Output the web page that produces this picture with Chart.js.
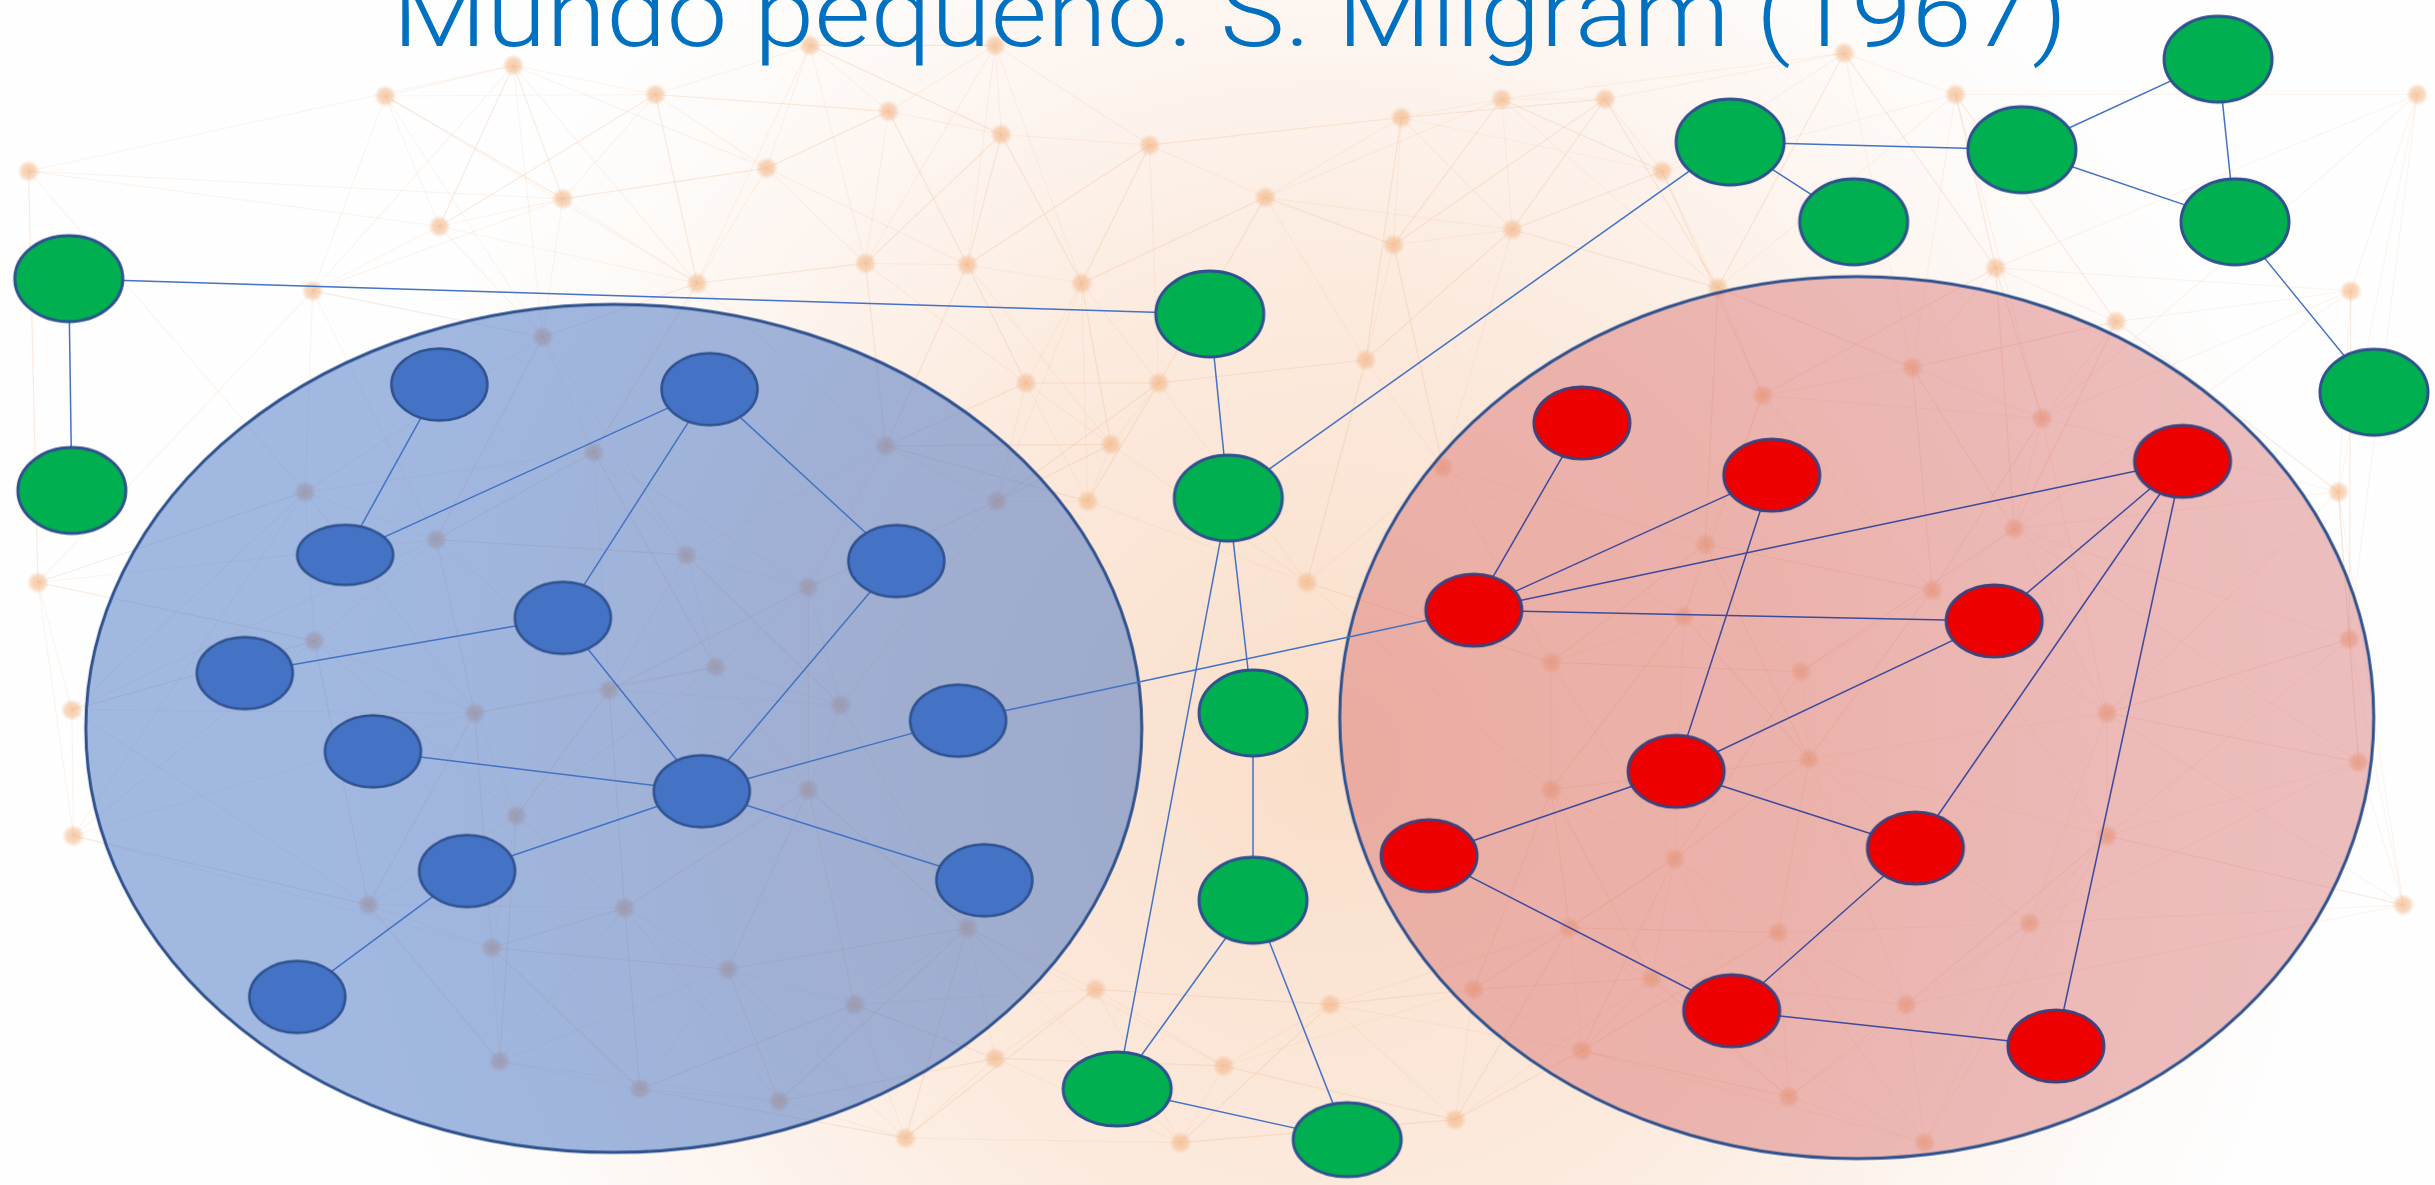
<!DOCTYPE html>
<html><head><meta charset="utf-8">
<script src="https://cdn.jsdelivr.net/npm/chart.js@4.4.1/dist/chart.umd.min.js"></script>
<style>
html,body{margin:0;padding:0;background:#fefefe;overflow:hidden}
#wrap{position:relative;width:2435px;height:1185px}
#c{position:absolute;left:0;top:0}
#ttl{position:absolute;left:0;top:0;pointer-events:none}
</style></head><body>
<div id="wrap"><canvas id="c" width="2435" height="1185"></canvas>
<svg id="ttl" width="2435" height="1185" xmlns="http://www.w3.org/2000/svg"><text id="ttlText" x="1230" y="46" text-anchor="middle" font-family="Roboto, 'Open Sans', sans-serif" font-weight="300" font-size="96" fill="#0070C0" textLength="1675" lengthAdjust="spacingAndGlyphs"></text></svg>
</div>
<script>
// ---------- DATA (layout coordinates) ----------
const titleText = 'Mundo pequeño. S. Milgram (1967)';

const greenNames = ['G1','G2','G3','G4','G5','G6','G7','G8','G9','G10','G11','G12','G13','G14'];
const greenX = [40, 42, 779, 1116, 1196, 1305, 1432, 1443, 1533, 791, 807, 807, 719, 868];
const greenY = [177, 315, 200, 88, 140, 93, 34, 140, 251, 320, 460, 582, 705, 738];

const blueNames = ['B1','B2','B3','B4','B5','B6','B7','B8','B9','B10','B11','B12'];
const blueX = [280, 455, 219, 576, 360, 154, 237, 616, 450, 298, 633, 188];
const blueY = [246, 249, 357, 361, 398, 434, 485, 465, 511, 563, 569, 645];

const redNames = ['R1','R2','R3','R4','R5','R6','R7','R8','R9','R10'];
const redX = [1020, 1143, 1409, 950, 1287, 1081, 921, 1236, 1117, 1327];
const redY = [271, 305, 296, 393, 400, 498, 553, 548, 654, 677];

const groupNames = ['blueGroup','redGroup'];
const groupX = [393, 1198];
const groupY = [470, 463];

const greenEdges = [['G1','G2'],['G1','G3'],['G3','G10'],['G10','G4'],['G4','G5'],['G4','G6'],['G6','G7'],['G6','G8'],['G7','G8'],['G8','G9'],['G10','G11'],['G10','G13'],['G11','G12'],['G12','G13'],['G12','G14'],['G13','G14']];
const blueEdges = [['B1','B3'],['B2','B3'],['B2','B5'],['B2','B4'],['B5','B6'],['B5','B9'],['B4','B9'],['B7','B9'],['B8','B9'],['B11','B9'],['B10','B9'],['B10','B12'],['B8','R4']];
const redEdges = [['R1','R4'],['R2','R4'],['R3','R4'],['R4','R5'],['R2','R6'],['R3','R5'],['R3','R8'],['R3','R10'],['R5','R6'],['R6','R7'],['R6','R8'],['R7','R9'],['R8','R9'],['R9','R10']];

const bgX = [245,328,420,492,571,644,740,815,903,968,1035,1072,1262,1288,1366,360,280,198,447,556,622,696,898,975,1108,1561,1518,1510,1517,1523,1552,14,20,42,43,347,380,193,278,440,519,569,641,199,303,390,459,540,519,330,234,400,314,467,549,622,319,410,500,715,746,660,700,705,857,788,640,938,582,760,842,1000,1086,1162,1247,1318,1300,1360,1167,1080,1000,1012,1065,1147,1230,1310,1360,1154,1242,1020,1100,1234,1137,950,880,930,1190,640,520];
const bgY = [58,38,57,105,68,83,90,124,72,60,60,107,57,170,205,125,143,185,180,167,168,180,155,145,183,57,185,316,412,492,585,107,375,458,540,215,290,316,347,357,378,286,322,413,460,445,430,455,510,527,585,587,613,627,650,600,687,705,713,285,245,245,322,640,650,690,685,725,737,740,375,427,397,433,380,268,340,460,490,555,510,600,633,603,650,597,540,710,740,680,350,235,253,640,230,300,30,25,25];

// ---------- STYLES ----------
const S = {
  green: {rx:54, ry:43, fill:'#00B050', stroke:'#2F528F', lw:3},
  greenSmall: {rx:54, ry:37, fill:'#00B050', stroke:'#2F528F', lw:3},
  blue: {rx:48, ry:36, fill:'#4472C4', stroke:'#2F528F', lw:2.5},
  blueSmall: {rx:48, ry:30, fill:'#4472C4', stroke:'#2F528F', lw:2.5},
  red: {rx:48, ry:36, fill:'#EE0000', stroke:'#41417A', lw:3},
  groupBlue: {rx:528, ry:424, fill:'rgba(68,114,196,0.5)', stroke:'#2F528F', lw:3},
  groupRed: {rx:517, ry:441, fill:'rgba(214,111,111,0.45)', stroke:'#2F528F', lw:3}
};
const sizeClass = {G13:'greenSmall', G14:'greenSmall', B3:'blueSmall'};

function ellImg(st){
  const c = document.createElement('canvas');
  c.width = Math.ceil(2*st.rx + 2*st.lw + 2);
  c.height = Math.ceil(2*st.ry + 2*st.lw + 2);
  const g = c.getContext('2d');
  g.beginPath();
  g.ellipse(c.width/2, c.height/2, st.rx, st.ry, 0, 0, Math.PI*2);
  g.fillStyle = st.fill; g.fill();
  g.lineWidth = st.lw; g.strokeStyle = st.stroke; g.stroke();
  return c;
}
const imgs = {};
Object.keys(S).forEach(k => imgs[k] = ellImg(S[k]));

// soft background dot
const dotImg = (() => {
  const c = document.createElement('canvas'); c.width = 22; c.height = 22;
  const g = c.getContext('2d');
  const gr = g.createRadialGradient(11,11,0,11,11,11);
  gr.addColorStop(0,'rgba(243,185,140,0.75)');
  gr.addColorStop(0.6,'rgba(243,185,140,0.55)');
  gr.addColorStop(1,'rgba(243,185,140,0)');
  g.fillStyle = gr; g.fillRect(0,0,22,22);
  return c;
})();

document.getElementById('ttlText').textContent = titleText;

// lookup
const pos = {};
greenNames.forEach((n,i)=>pos[n]={x:greenX[i],y:greenY[i]});
blueNames.forEach((n,i)=>pos[n]={x:blueX[i],y:blueY[i]});
redNames.forEach((n,i)=>pos[n]={x:redX[i],y:redY[i]});

function nodeDataset(names, xs, ys, cls){
  return {
    data: xs.map((x,i)=>({x, y: ys[i]})),
    pointStyle: names.map(n => imgs[sizeClass[n] || cls]),
    pointRadius: 5,
    order: 1, clip: false
  };
}
function edgeDatasets(edges, color){
  return edges.map(e => ({
    data: [pos[e[0]], pos[e[1]]],
    showLine: true, borderColor: color, borderWidth: 1.5,
    pointRadius: 0, order: 2, clip: false
  }));
}

// background decorative links: each dot to its nearest neighbours
const bgLinks = [];
for (let i=0;i<bgX.length;i++){
  const d = [];
  for (let j=0;j<bgX.length;j++) if (j!==i) d.push([Math.hypot(bgX[i]-bgX[j], bgY[i]-bgY[j]), j]);
  d.sort((a,b)=>a[0]-b[0]);
  for (let k=0;k<7;k++){
    const j = d[k][1];
    if (j < i && k < 3) continue;
    bgLinks.push({data:[{x:bgX[i],y:bgY[i]},{x:bgX[j],y:bgY[j]}], showLine:true, borderColor:'rgba(240,175,130,0.13)', borderWidth:1.2, pointRadius:0, order:5, clip:false});
  }
}

const bgPlugin = {
  id: 'bgwash',
  beforeDatasetsDraw(chart){
    const {ctx, width, height} = chart;
    ctx.save();
    ctx.fillStyle = '#fefefe'; ctx.fillRect(0,0,width,height);
    const g = ctx.createRadialGradient(1330, 760, 0, 1330, 760, 1000);
    g.addColorStop(0, 'rgba(247,200,165,0.6)');
    g.addColorStop(0.5, 'rgba(249,212,186,0.45)');
    g.addColorStop(1, 'rgba(250,222,204,0)');
    ctx.fillStyle = g; ctx.fillRect(0,0,width,height);
    ctx.restore();
  }
};

const datasets = [
  nodeDataset(greenNames, greenX, greenY, 'green'),
  nodeDataset(blueNames, blueX, blueY, 'blue'),
  nodeDataset(redNames, redX, redY, 'red'),
  ...edgeDatasets(greenEdges, '#4472C4'),
  ...edgeDatasets(blueEdges, '#4472C4'),
  ...edgeDatasets(redEdges, '#3F4A9E'),
  {data: groupX.map((x,i)=>({x, y: groupY[i]})), pointStyle:[imgs.groupBlue, imgs.groupRed], pointRadius:5, order:3, clip:false},
  {data: bgX.map((x,i)=>({x, y: bgY[i]})), pointStyle: dotImg, pointRadius:6, order:4, clip:false},
  ...bgLinks
];

new Chart(document.getElementById('c'), {
  type: 'scatter',
  data: { datasets },
  options: {
    responsive: false,
    animation: false,
    events: [],
    layout: { padding: 0 },
    plugins: { legend:{display:false}, tooltip:{enabled:false}, title:{display:false} },
    scales: {
      x: { type:'linear', min:0, max:1568, display:false },
      y: { type:'linear', min:0, max:763, reverse:true, display:false }
    }
  },
  plugins: [bgPlugin]
});
</script>
</body></html>
